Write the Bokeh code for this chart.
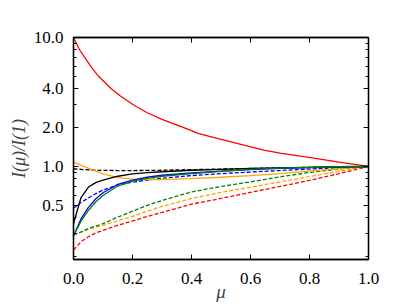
from bokeh.plotting import figure
from bokeh.models import (Range1d, FixedTicker, PrintfTickFormatter, LogAxis, LinearAxis)
from bokeh.embed import file_html
from bokeh.resources import INLINE

# ---- data ----
mu_red_solid = [0, 0.021, 0.038, 0.058, 0.085, 0.128, 0.16, 0.204, 0.25, 0.3, 0.374, 0.425, 0.5, 0.645, 0.7, 0.815, 0.9, 1.0]
red_solid = [10.0, 8.0, 7.0, 6.0, 5.0, 4.0, 3.5, 3.0, 2.61, 2.32, 2.0, 1.8, 1.62, 1.34, 1.27, 1.16, 1.08, 1.0]

mu = [0, 0.025, 0.05, 0.075, 0.1, 0.15, 0.2, 0.25, 0.3, 0.4, 0.5, 0.6, 0.7, 0.8, 0.9, 1.0]
black_solid  = [0.36, 0.57, 0.69, 0.75, 0.785, 0.84, 0.875, 0.895, 0.91, 0.935, 0.95, 0.965, 0.975, 0.985, 0.995, 1.0]
blue_solid   = [0.29, 0.39, 0.48, 0.56, 0.625, 0.725, 0.785, 0.825, 0.855, 0.89, 0.92, 0.945, 0.965, 0.98, 0.99, 1.0]
green_solid  = [0.29, 0.375, 0.455, 0.53, 0.595, 0.705, 0.77, 0.81, 0.84, 0.88, 0.915, 0.95, 0.97, 0.985, 0.995, 1.0]
orange_solid = [1.08, 1.02, 0.97, 0.92, 0.875, 0.82, 0.797, 0.79, 0.79, 0.805, 0.825, 0.85, 0.88, 0.92, 0.96, 1.0]
black_dash   = [0.96, 0.95, 0.94, 0.935, 0.932, 0.93, 0.93, 0.932, 0.935, 0.945, 0.955, 0.965, 0.975, 0.985, 0.993, 1.0]
blue_dash    = [0.475, 0.525, 0.57, 0.615, 0.655, 0.72, 0.755, 0.785, 0.81, 0.85, 0.88, 0.905, 0.93, 0.955, 0.978, 1.0]
green_dash   = [0.295, 0.31, 0.33, 0.345, 0.36, 0.405, 0.45, 0.50, 0.545, 0.635, 0.70, 0.76, 0.83, 0.90, 0.955, 1.0]
orange_dash  = [0.295, 0.31, 0.325, 0.338, 0.35, 0.38, 0.41, 0.45, 0.49, 0.565, 0.63, 0.69, 0.76, 0.835, 0.92, 1.0]
red_dash     = [0.225, 0.26, 0.285, 0.305, 0.32, 0.35, 0.378, 0.41, 0.44, 0.51, 0.565, 0.63, 0.70, 0.78, 0.88, 1.0]

x_ticks = [0.0, 0.2, 0.4, 0.6, 0.8, 1.0]
y_ticks = [0.5, 1.0, 2.0, 4.0, 10.0]
y_minor = [0.2, 0.3, 0.4, 0.6, 0.7, 0.8, 0.9, 3.0, 5.0, 6.0, 7.0, 8.0, 9.0]

FONT = "Liberation Serif"

p = figure(frame_width=295, frame_height=222, y_axis_type="log",
           x_range=Range1d(0, 1), y_range=Range1d(0.19, 10.0),
           output_backend="svg", toolbar_location=None,
           min_border_left=73, min_border_right=41, min_border_top=37, min_border_bottom=0)
p.grid.visible = False
p.outline_line_color = "black"
p.outline_line_width = 1.3
p.background_fill_color = "white"
p.border_fill_color = "white"

lw = 1.3
dash = "4 2"
p.line(mu_red_solid, red_solid, color="#ff0000", line_width=lw)
p.line(mu, red_dash, color="#ff0000", line_width=lw, line_dash=dash)
p.line(mu, orange_dash, color="#ffa500", line_width=lw, line_dash=dash)
p.line(mu, green_dash, color="#008000", line_width=lw, line_dash=dash)
p.line(mu, blue_dash, color="#0000ff", line_width=lw, line_dash=dash)
p.line(mu, black_dash, color="black", line_width=lw, line_dash=dash)
p.line(mu, orange_solid, color="#ffa500", line_width=lw)
p.line(mu, black_solid, color="black", line_width=lw)
p.line(mu, blue_solid, color="#0000ff", line_width=lw)
p.line(mu, green_solid, color="#008000", line_width=lw)

def style(ax):
    ax.major_tick_in = 5
    ax.major_tick_out = 0
    ax.minor_tick_in = 3
    ax.minor_tick_out = 0
    ax.major_tick_line_color = "black"
    ax.axis_line_color = "black"
    ax.axis_line_width = 1.3
    ax.major_label_text_font = FONT
    ax.major_label_text_font_size = "17px"
    ax.major_label_text_color = "black"

xa = p.xaxis[0]
xa.ticker = FixedTicker(ticks=x_ticks)
xa.formatter = PrintfTickFormatter(format="%.1f")
style(xa)
xa.minor_tick_line_color = None
xa.major_label_standoff = 13
xa.axis_label = "μ"
xa.axis_label_text_font = FONT
xa.axis_label_text_font_style = "italic"
xa.axis_label_text_font_size = "19px"
xa.axis_label_standoff = -6

ya = p.yaxis[0]
ya.ticker = FixedTicker(ticks=y_ticks, minor_ticks=y_minor)
ya.formatter = PrintfTickFormatter(format="%.1f")
style(ya)
ya.major_label_standoff = 10
ya.axis_label = "I(μ)/I(1)"
ya.axis_label_text_font = FONT
ya.axis_label_text_font_style = "italic"
ya.axis_label_text_font_size = "18px"
ya.axis_label_standoff = 2

ra = LogAxis(ticker=FixedTicker(ticks=y_ticks, minor_ticks=y_minor))
style(ra)
ra.major_label_standoff = 0
ra.major_label_overrides = {t: "" for t in y_ticks}
p.add_layout(ra, "right")

ta = LinearAxis(ticker=FixedTicker(ticks=x_ticks))
style(ta)
ta.minor_tick_line_color = None
ta.major_label_standoff = 0
ta.major_label_overrides = {t: "" for t in x_ticks}
p.add_layout(ta, "above")

open("out.html", "w").write(file_html(p, INLINE))
